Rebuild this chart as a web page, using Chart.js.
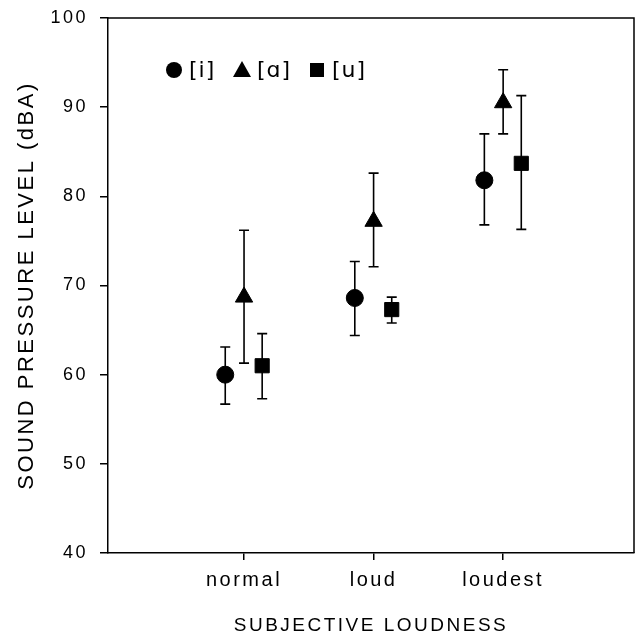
<!DOCTYPE html>
<html>
<head>
<meta charset="utf-8">
<script src="https://cdn.jsdelivr.net/npm/chart.js@4.4.1/dist/chart.umd.min.js"></script>
<style>
html,body{margin:0;padding:0;background:#fff;}
#wrap{width:639px;height:638px;}
</style>
</head>
<body>
<div id="wrap"><canvas id="c" width="639" height="638"></canvas></div>
<script>
// ---- data ----
const categories = ["normal", "loud", "loudest"];
const vowelLabels = ["[i]", "[ɑ]", "[u]"];
const iMean = [60.0, 68.6, 81.8];
const iLow  = [56.7, 64.4, 76.8];
const iHigh = [63.1, 72.7, 87.0];
const aMean = [68.7, 77.2, 90.5];
const aLow  = [61.3, 72.1, 87.0];
const aHigh = [76.2, 82.6, 94.2];
const uMean = [61.0, 67.3, 83.7];
const uLow  = [57.3, 65.8, 76.3];
const uHigh = [64.6, 68.7, 91.3];
const yTicks = [40, 50, 60, 70, 80, 90, 100];

const groupOffsets = [-0.145, 0, 0.14];
const styles = ["circle", "triangle", "rect"];
const radii = [8.5, 10, 10];

function pts(means, k) {
  return means.map((v, i) => ({ x: i + 1 + groupOffsets[k], y: v }));
}
const series = [
  { mean: iMean, low: iLow, high: iHigh },
  { mean: aMean, low: aLow, high: aHigh },
  { mean: uMean, low: uLow, high: uHigh }
];

const datasets = series.map((s, k) => ({
  label: vowelLabels[k],
  data: pts(s.mean, k),
  low: s.low,
  high: s.high,
  showLine: false,
  pointStyle: styles[k],
  pointRadius: radii[k],
  pointHoverRadius: radii[k],
  backgroundColor: "#000",
  borderColor: "#000",
  borderWidth: 1
}));

const spacing = {
  id: "spacing",
  beforeInit(chart) { chart.ctx.letterSpacing = "2.5px"; },
  beforeUpdate(chart) { chart.ctx.letterSpacing = "2.5px"; },
  beforeDraw(chart) { chart.ctx.letterSpacing = "2.5px"; }
};

const errorBars = {
  id: "errorBars",
  beforeDatasetsDraw(chart) {
    const ctx = chart.ctx, ys = chart.scales.y;
    ctx.save();
    ctx.strokeStyle = "#000";
    ctx.lineWidth = 1.6;
    chart.data.datasets.forEach((ds, di) => {
      const meta = chart.getDatasetMeta(di);
      meta.data.forEach((el, i) => {
        const x = el.x;
        const yl = ys.getPixelForValue(ds.low[i]);
        const yh = ys.getPixelForValue(ds.high[i]);
        ctx.beginPath();
        ctx.moveTo(x, yl); ctx.lineTo(x, yh);
        ctx.moveTo(x - 5, yl); ctx.lineTo(x + 5, yl);
        ctx.moveTo(x - 5, yh); ctx.lineTo(x + 5, yh);
        ctx.stroke();
      });
    });
    ctx.restore();
  }
};

const frame = {
  id: "frame",
  afterDraw(chart) {
    const a = chart.chartArea, ctx = chart.ctx;
    ctx.save();
    ctx.strokeStyle = "#000";
    ctx.lineWidth = 1.5;
    ctx.beginPath();
    ctx.moveTo(a.left, a.top); ctx.lineTo(a.right, a.top); ctx.lineTo(a.right, a.bottom);
    ctx.stroke();
    ctx.restore();
  }
};

const legendIn = {
  id: "legendIn",
  afterDraw(chart) {
    const ctx = chart.ctx;
    const y = 70;
    const xs = [174, 242, 317];
    ctx.save();
    ctx.letterSpacing = "1px";
    ctx.fillStyle = "#000";
    ctx.font = "22px 'DejaVu Sans'";
    ctx.textBaseline = "middle";
    chart.data.datasets.forEach((ds, k) => {
      const x = xs[k];
      ctx.beginPath();
      if (ds.pointStyle === "circle") {
        ctx.arc(x, y, 8, 0, Math.PI * 2);
      } else if (ds.pointStyle === "triangle") {
        ctx.moveTo(x, y - 9); ctx.lineTo(x + 9, y + 7); ctx.lineTo(x - 9, y + 7); ctx.closePath();
      } else {
        ctx.rect(x - 7, y - 7, 14, 14);
      }
      ctx.fill();
      ctx.fillText(ds.label, x + 15, y + 1);
    });
    ctx.restore();
  }
};

new Chart(document.getElementById("c"), {
  type: "scatter",
  data: { datasets },
  options: {
    responsive: false,
    animation: false,
    events: [],
    layout: { autoPadding: false, padding: { top: 18, right: 5, left: 0, bottom: 0 } },
    plugins: { legend: { display: false }, tooltip: { enabled: false } },
    scales: {
      x: {
        type: "linear",
        min: -0.05,
        max: 4.01,
        afterBuildTicks(scale) { scale.ticks = categories.map((c, i) => ({ value: i + 1 })); },
        afterFit(scale) { scale.height = 85; scale.paddingLeft = 0; scale.paddingRight = 0; },
        ticks: {
          color: "#000",
          font: { family: "'Liberation Sans', Arial", size: 20 },
          padding: 8,
          callback: (v) => categories[v - 1] ?? ""
        },
        grid: { drawOnChartArea: false, drawTicks: true, tickLength: 7, color: "#000", lineWidth: 1.5 },
        border: { display: true, color: "#000", width: 1.5 },
        title: {
          display: true,
          text: "SUBJECTIVE LOUDNESS",
          color: "#000",
          font: { family: "'Liberation Sans', Arial", size: 19 },
          padding: { top: 0, bottom: 1 }
        }
      },
      y: {
        min: 40,
        max: 100,
        afterBuildTicks(scale) { scale.ticks = yTicks.map(v => ({ value: v })); },
        afterFit(scale) { scale.width = 108; scale.paddingTop = 0; scale.paddingBottom = 0; },
        ticks: {
          color: "#000",
          font: { family: "'Liberation Sans', Arial", size: 18 },
          padding: 12
        },
        grid: { drawOnChartArea: false, drawTicks: true, tickLength: 8, color: "#000", lineWidth: 1.5 },
        border: { display: true, color: "#000", width: 1.5 },
        title: {
          display: true,
          text: "SOUND PRESSURE LEVEL (dBA)",
          color: "#000",
          font: { family: "'Liberation Sans', Arial", size: 22 },
          padding: { top: 14, bottom: 0 }
        }
      }
    }
  },
  plugins: [spacing, errorBars, frame, legendIn]
});
</script>
</body>
</html>
